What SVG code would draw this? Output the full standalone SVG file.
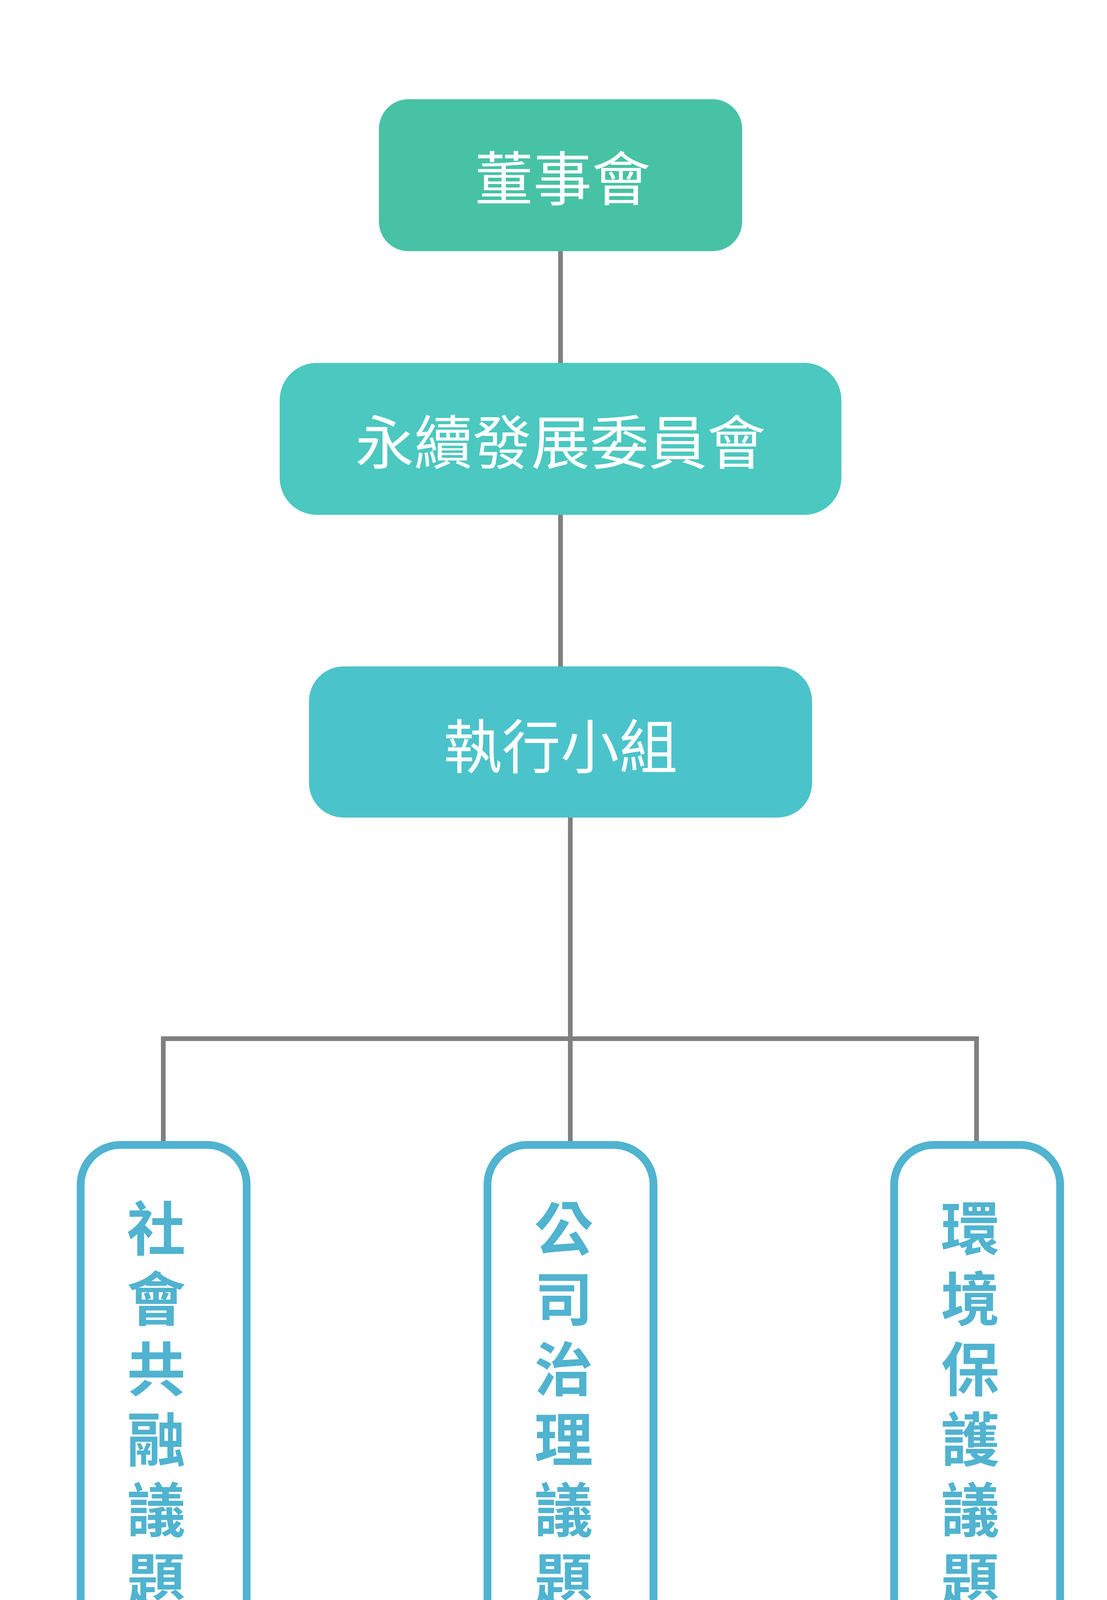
<svg xmlns="http://www.w3.org/2000/svg" width="2834" height="4767" viewBox="0 0 2834 4767">
  <style>
    .top { font-family: "Noto Sans CJK TC", "Noto Sans CJK SC", sans-serif; font-size: 150px; fill: #ffffff; text-anchor: middle; font-weight: 400; }
    .sub { font-family: "Noto Sans CJK TC", "Noto Sans CJK SC", sans-serif; font-size: 150px; fill: #50b3d0; text-anchor: middle; font-weight: 700; }
    .subbox { fill: #ffffff; stroke: #50b3d0; stroke-width: 20; }
    .conn { fill: none; stroke: #808080; stroke-width: 12; stroke-linejoin: miter; stroke-linecap: butt; }
  </style>
  <rect width="2834" height="4767" fill="#ffffff"/>
  <g id="connectors">
    <line class="conn" x1="1435" y1="640" x2="1435" y2="932"/>
    <line class="conn" x1="1435" y1="1315" x2="1435" y2="1709"/>
    <line class="conn" x1="1460" y1="2090" x2="1460" y2="2925"/>
    <polyline class="conn" points="418,2925 418,2659 2500,2659 2500,2925"/>
  </g>
  <g id="node-board">
    <rect x="970" y="254" width="930" height="389" rx="76" ry="76" fill="#47c2a5"/>
    <text class="top" x="1440" y="513">董事會</text>
  </g>
  <g id="node-committee">
    <rect x="716" y="929" width="1438" height="389" rx="95" ry="95" fill="#4bc8bf"/>
    <text class="top" x="1435" y="1188">永續發展委員會</text>
  </g>
  <g id="node-exec">
    <rect x="791" y="1706" width="1288" height="387" rx="89" ry="89" fill="#4bc3cb"/>
    <text class="top" x="1435" y="1967">執行小組</text>
  </g>
  <g id="node-social">
    <rect class="subbox" x="206.5" y="2931" width="425" height="1487" rx="102" ry="102"/>
    <text class="sub" x="417">
      <tspan x="417" y="3201">社</tspan>
      <tspan x="417" y="3381">會</tspan>
      <tspan x="417" y="3561">共</tspan>
      <tspan x="417" y="3741">融</tspan>
      <tspan x="417" y="3921">議</tspan>
      <tspan x="417" y="4101">題</tspan>
      <tspan x="417" y="4281">組</tspan>
    </text>
  </g>
  <g id="node-governance">
    <rect class="subbox" x="1248" y="2931" width="425" height="1487" rx="102" ry="102"/>
    <text class="sub" x="1460">
      <tspan x="1460" y="3201">公</tspan>
      <tspan x="1460" y="3381">司</tspan>
      <tspan x="1460" y="3561">治</tspan>
      <tspan x="1460" y="3741">理</tspan>
      <tspan x="1460" y="3921">議</tspan>
      <tspan x="1460" y="4101">題</tspan>
      <tspan x="1460" y="4281">組</tspan>
    </text>
  </g>
  <g id="node-environment">
    <rect class="subbox" x="2289" y="2931" width="425" height="1487" rx="102" ry="102"/>
    <text class="sub" x="2501">
      <tspan x="2501" y="3201">環</tspan>
      <tspan x="2501" y="3381">境</tspan>
      <tspan x="2501" y="3561">保</tspan>
      <tspan x="2501" y="3741">護</tspan>
      <tspan x="2501" y="3921">議</tspan>
      <tspan x="2501" y="4101">題</tspan>
      <tspan x="2501" y="4281">組</tspan>
    </text>
  </g>
</svg>
